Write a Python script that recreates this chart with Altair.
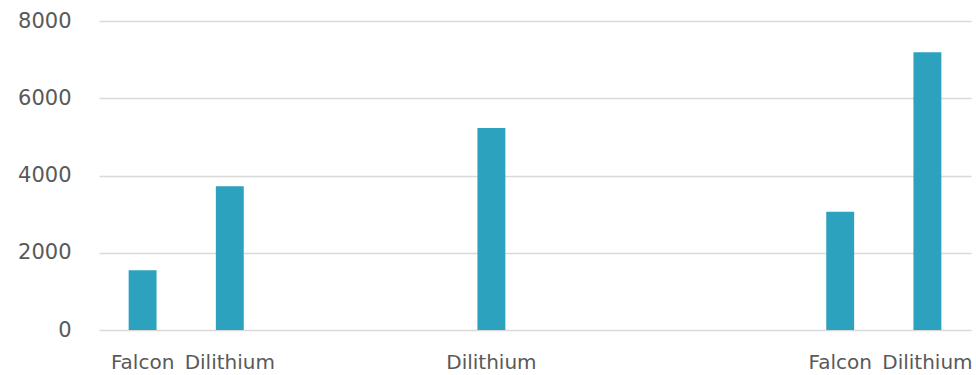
import altair as alt
import pandas as pd

# Ten evenly spaced category slots; blank slots leave gaps between groups.
slot_labels = ["Falcon", "Dilithium", "", "", "Dilithium", "", "", "", "Falcon", "Dilithium"]
slot_values = [1550, 3720, None, None, 5230, None, None, None, 3060, 7190]
y_ticks = [0, 2000, 4000, 6000, 8000]

BAR_COLOR = "#2ca2bf"
TEXT_COLOR = "#595959"
GRID_COLOR = "#d9d9d9"
FONT = "DejaVu Sans"

df = pd.DataFrame({
    "slot": list(range(len(slot_labels))),
    "label": slot_labels,
    "value": slot_values,
})

label_array = "[" + ",".join("'" + s + "'" for s in slot_labels) + "]"

chart = (
    alt.Chart(df)
    .transform_filter("datum.value != null")
    .mark_bar(color=BAR_COLOR)
    .encode(
        x=alt.X(
            "slot:O",
            scale=alt.Scale(domain=list(range(len(slot_labels))), paddingInner=0.68, paddingOuter=0.34),
            axis=alt.Axis(
                title=None,
                labelExpr=label_array + "[datum.value]",
                labelAngle=0,
                labelFont=FONT,
                labelFontSize=20,
                labelColor=TEXT_COLOR,
                labelBaseline="alphabetic",
                labelPadding=38,
                ticks=False,
                tickSize=0,
                domain=False,
                grid=False,
            ),
        ),
        y=alt.Y(
            "value:Q",
            scale=alt.Scale(domain=[0, 8000], nice=False),
            axis=alt.Axis(
                title=None,
                values=y_ticks,
                format="d",
                labelFont=FONT,
                labelFontSize=21,
                labelColor=TEXT_COLOR,
                labelPadding=28,
                ticks=False,
                tickSize=0,
                domain=False,
                grid=True,
                gridColor=GRID_COLOR,
                gridWidth=1.5,
            ),
        ),
    )
    .properties(
        width=872,
        height=309,
        background="white",
        autosize=alt.AutoSizeParams(type="none"),
        padding={"left": 99, "top": 21, "right": 5, "bottom": 45},
    )
    .configure_view(stroke="transparent", strokeWidth=0)
)

chart.save("out.html", embed_options={"renderer": "svg", "actions": False})
